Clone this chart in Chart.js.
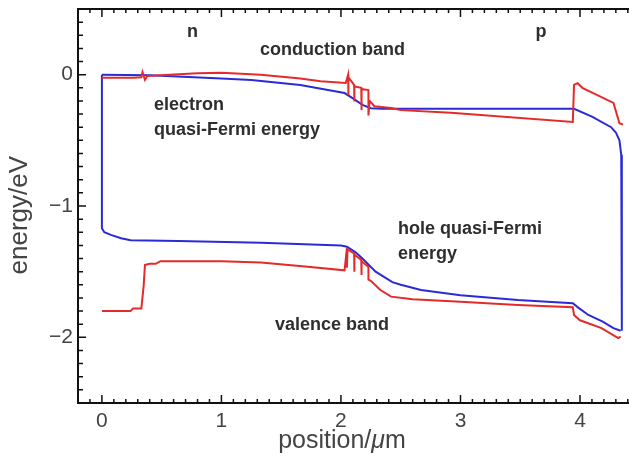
<!DOCTYPE html>
<html lang="en">
<head>
<meta charset="UTF-8">
<title>band diagram</title>
<script src="https://cdn.jsdelivr.net/npm/chart.js@4.4.0/dist/chart.umd.min.js"></script>
<style>
  html, body { margin: 0; padding: 0; background: #fff; overflow: hidden; }
  #chart { display: block; }
</style>
</head>
<body>
<canvas id="chart" width="629" height="464"></canvas>
<script>
// conduction band (red, top)
const cbX = [0, 0.26, 0.33, 0.34, 0.36, 0.38, 0.49, 0.8, 1.0, 1.33, 1.66, 1.83, 2.04, 2.06, 2.06, 2.065, 2.11, 2.11, 2.115, 2.17, 2.17, 2.175, 2.23, 2.23, 2.24, 2.28, 2.42, 2.5, 2.92, 3.94, 3.95, 3.98, 4.02, 4.28, 4.33, 4.36];
const cbY = [-0.023, -0.023, -0.02, 0.02, -0.04, -0.01, -0.005, 0.01, 0.015, 0.0, -0.03, -0.05, -0.063, 0.0, -0.155, -0.02, -0.078, -0.205, -0.09, -0.10, -0.27, -0.11, -0.117, -0.31, -0.2, -0.24, -0.254, -0.27, -0.29, -0.36, -0.078, -0.065, -0.10, -0.215, -0.37, -0.38];

// valence band (red, bottom)
const vbX = [0, 0.24, 0.26, 0.33, 0.35, 0.36, 0.40, 0.45, 0.49, 1.0, 1.33, 1.7, 2.03, 2.05, 2.05, 2.055, 2.11, 2.11, 2.115, 2.17, 2.17, 2.175, 2.23, 2.23, 2.25, 2.33, 2.42, 2.6, 3.0, 3.48, 3.94, 3.95, 4.0, 4.18, 4.32, 4.34];
const vbY = [-1.80, -1.80, -1.78, -1.78, -1.60, -1.45, -1.44, -1.44, -1.42, -1.42, -1.43, -1.46, -1.49, -1.32, -1.47, -1.33, -1.36, -1.50, -1.37, -1.41, -1.525, -1.42, -1.465, -1.56, -1.57, -1.64, -1.69, -1.71, -1.73, -1.754, -1.77, -1.83, -1.87, -1.93, -2.005, -1.995];

// electron quasi-Fermi energy (blue, top)
const efnX = [0, 0.4, 1.0, 1.25, 1.66, 2.03, 2.1, 2.18, 2.25, 2.35, 3.95, 4.1, 4.26, 4.3, 4.33, 4.345, 4.35, 4.35];
const efnY = [0, -0.005, -0.03, -0.04, -0.078, -0.14, -0.18, -0.23, -0.255, -0.26, -0.26, -0.32, -0.40, -0.44, -0.50, -0.61, -0.8, -1.95];

// hole quasi-Fermi energy (blue, bottom)
const efpX = [0, 0, 0.02, 0.075, 0.16, 0.24, 0.64, 1.33, 2.0, 2.05, 2.12, 2.18, 2.29, 2.43, 2.5, 2.67, 3.0, 3.48, 3.94, 3.98, 4.07, 4.19, 4.28, 4.34];
const efpY = [0, -1.17, -1.2, -1.22, -1.245, -1.26, -1.267, -1.28, -1.30, -1.31, -1.35, -1.40, -1.50, -1.58, -1.60, -1.64, -1.68, -1.716, -1.74, -1.77, -1.83, -1.88, -1.93, -1.95];

const yTicks = [0, -1, -2];
const xTicks = [0, 1, 2, 3, 4];

function pts(xs, ys) {
  return xs.map((x, i) => ({ x: x, y: ys[i] }));
}

const RED = '#e32b2b';
const BLUE = '#2b2bd6';
const FONT = '"Liberation Sans", Arial, sans-serif';

// inward ticks and top frame
const frameTicks = {
  id: 'frameTicks',
  afterDraw(chart) {
    const ctx = chart.ctx;
    const a = chart.chartArea;
    const xs = chart.scales.x, ys = chart.scales.y;
    ctx.save();
    ctx.strokeStyle = '#111';
    ctx.lineWidth = 2;
    ctx.beginPath();
    ctx.moveTo(a.left - 1, a.top);
    ctx.lineTo(a.right, a.top);
    ctx.stroke();
    ctx.lineWidth = 1.5;
    ctx.beginPath();
    for (let k = -2; k <= 44; k++) {
      const v = k / 10;
      if (v < xs.min || v > xs.max) continue;
      const px = xs.getPixelForValue(v);
      const len = (k % 10 === 0) ? 8 : 4;
      ctx.moveTo(px, a.bottom); ctx.lineTo(px, a.bottom - len);
      ctx.moveTo(px, a.top); ctx.lineTo(px, a.top + len);
    }
    for (let k = -25; k <= 5; k++) {
      const py = ys.getPixelForValue(k / 10);
      const len = (k % 10 === 0) ? 8 : 5;
      ctx.moveTo(a.left, py); ctx.lineTo(a.left + len, py);
    }
    ctx.stroke();
    ctx.restore();
  }
};

// axis titles (x title has an italic mu) and text labels inside the plot
const notes = {
  id: 'notes',
  afterDatasetsDraw(chart) {
    const ctx = chart.ctx;
    const xs = chart.scales.x, ys = chart.scales.y;
    const items = [
      { t: 'n', x: 0.757, y: 0.325, align: 'center' },
      { t: 'conduction band', x: 1.322, y: 0.188, align: 'left' },
      { t: 'p', x: 3.674, y: 0.325, align: 'center' },
      { t: 'electron', x: 0.435, y: -0.231, align: 'left' },
      { t: 'quasi-Fermi energy', x: 0.435, y: -0.421, align: 'left' },
      { t: 'hole quasi-Fermi', x: 2.477, y: -1.175, align: 'left' },
      { t: 'energy', x: 2.477, y: -1.362, align: 'left' },
      { t: 'valence band', x: 1.448, y: -1.906, align: 'left' }
    ];
    ctx.save();
    ctx.fillStyle = '#2e2e2e';
    ctx.font = 'bold 18px ' + FONT;
    ctx.textBaseline = 'middle';
    items.forEach(it => {
      ctx.textAlign = it.align;
      ctx.fillText(it.t, xs.getPixelForValue(it.x), ys.getPixelForValue(it.y));
    });

    // x title
    ctx.fillStyle = '#444';
    ctx.textAlign = 'left';
    const parts = [
      { t: 'position/', f: '25px ' + FONT },
      { t: 'μ', f: 'italic 25px ' + FONT },
      { t: 'm', f: '25px ' + FONT }
    ];
    let total = 0;
    parts.forEach(p => { ctx.font = p.f; p.w = ctx.measureText(p.t).width; total += p.w; });
    let cx = xs.getPixelForValue(2.0) + 1 - total / 2;
    parts.forEach(p => { ctx.font = p.f; ctx.fillText(p.t, cx, 441); cx += p.w; });

    // y title
    ctx.translate(20, ys.getPixelForValue(-1.07));
    ctx.rotate(-Math.PI / 2);
    ctx.textAlign = 'center';
    ctx.font = '26px ' + FONT;
    ctx.fillText('energy/eV', 0, 0);
    ctx.restore();
  }
};

const ctx = document.getElementById('chart');
new Chart(ctx, {
  type: 'line',
  data: {
    datasets: [
      { label: 'conduction band', data: pts(cbX, cbY), borderColor: RED },
      { label: 'valence band', data: pts(vbX, vbY), borderColor: RED },
      { label: 'electron quasi-Fermi energy', data: pts(efnX, efnY), borderColor: BLUE },
      { label: 'hole quasi-Fermi energy', data: pts(efpX, efpY), borderColor: BLUE }
    ]
  },
  options: {
    responsive: false,
    animation: false,
    datasets: {
      line: { pointRadius: 0, borderWidth: 2, tension: 0, fill: false, clip: false }
    },
    layout: { padding: { top: 9, right: 0, left: 0, bottom: 0 } },
    plugins: {
      legend: { display: false },
      tooltip: { enabled: false }
    },
    scales: {
      x: {
        type: 'linear',
        min: -0.2,
        max: 4.41,
        afterFit(s) { s.height = 61; s.paddingLeft = 0; s.paddingRight = 0; },
        afterBuildTicks(s) { s.ticks = xTicks.map(v => ({ value: v })); },
        grid: { drawOnChartArea: false, drawTicks: false },
        border: { display: true, color: '#111', width: 2 },
        ticks: {
          padding: 6,
          color: '#444',
          font: { size: 21, family: FONT },
          callback: v => String(v)
        }
      },
      y: {
        min: -2.5,
        max: 0.5,
        afterFit(s) { s.width = 78; s.paddingTop = 0; s.paddingBottom = 0; },
        afterBuildTicks(s) { s.ticks = yTicks.map(v => ({ value: v })); },
        grid: { drawOnChartArea: false, drawTicks: false },
        border: { display: true, color: '#111', width: 2 },
        ticks: {
          padding: 5,
          color: '#444',
          font: { size: 21, family: FONT },
          callback: v => v < 0 ? '\u2212' + Math.abs(v) : String(v)
        }
      }
    }
  },
  plugins: [frameTicks, notes]
});
</script>
</body>
</html>
